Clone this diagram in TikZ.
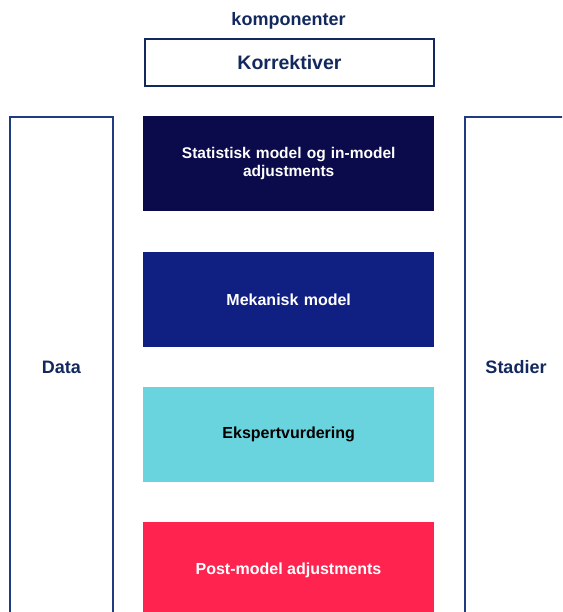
\documentclass[tikz,border=0pt]{standalone}
\usepackage{fontspec}
\setmainfont{Liberation Sans}
\definecolor{navytext}{HTML}{13295E}
\definecolor{navyline}{HTML}{1F3C82}
\definecolor{darknavy}{HTML}{0B0A4B}
\definecolor{midblue}{HTML}{101F82}
\definecolor{cyanbox}{HTML}{6AD4DE}
\definecolor{redbox}{HTML}{FF2450}
\begin{document}
\begin{tikzpicture}[x=1pt,y=-1pt,
  layer/.style={minimum width=291pt,minimum height=95pt,inner sep=0pt,anchor=north west,font=\fontsize{16}{18.5}\selectfont\bfseries,align=center,text width=280pt},
  sidebox/.style={draw=navyline,line width=1.2pt},
  lbl/.style={font=\fontsize{18}{21}\selectfont\bfseries,text=navytext}]
\useasboundingbox (0,0) rectangle (562,612);
\begin{scope}
\clip (0,0) rectangle (562,612);
\draw[sidebox] (10,640) -- (10,117) -- (113,117) -- (113,640);
\draw[sidebox] (600,117) -- (465,117) -- (465,640);
\node[lbl] (data) at (61.5,367) {Data};
\node[lbl] (stadier) at (516,367) {Stadier};
\node[lbl] (komp) at (288.5,21) {komponenter};
\node[draw=navytext,line width=2pt,minimum width=289pt,minimum height=47pt,inner sep=0pt,anchor=north west,font=\fontsize{19.5}{22}\selectfont\bfseries,text=navytext] (korr) at (144,38) {Korrektiver};
\node[layer,fill=darknavy,text=white,font=\fontsize{15.5}{18.5}\selectfont\bfseries] (stat) at (143,116) {Statistisk model og in-model\\adjustments};
\node[layer,fill=midblue,text=white] (mek) at (143,252) {Mekanisk model};
\node[layer,fill=cyanbox,text=black] (eksp) at (143,387) {Ekspertvurdering};
\node[layer,fill=redbox,text=white,minimum height=120pt] (post) at (143,522) {};
\node[font=\fontsize{16}{18.5}\selectfont\bfseries,text=white] (postlbl) at (288.5,570) {Post-model adjustments};
\end{scope}
\end{tikzpicture}
\end{document}
